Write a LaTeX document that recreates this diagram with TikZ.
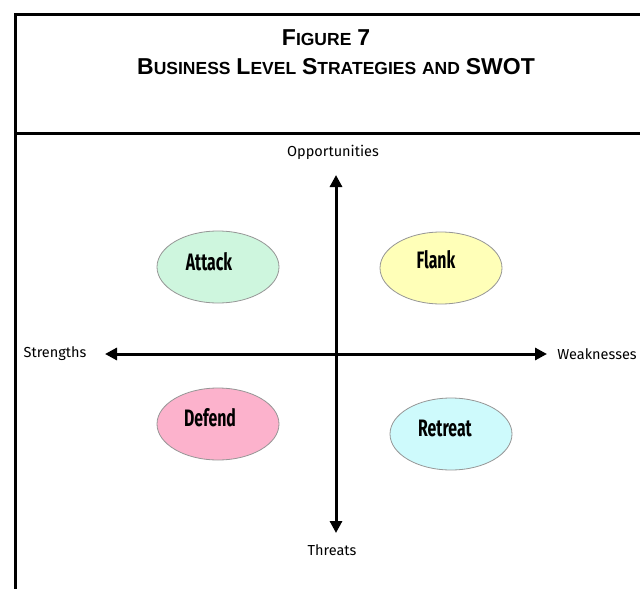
\documentclass[tikz,border=0pt]{standalone}
\usepackage{fontspec}
\setmainfont{Liberation Sans}
\newfontfamily\handfont{Fira Sans}
\usetikzlibrary{arrows.meta, shapes.geometric}

\definecolor{attackfill}{RGB}{206,246,222}
\definecolor{flankfill}{RGB}{255,255,184}
\definecolor{defendfill}{RGB}{252,178,204}
\definecolor{retreatfill}{RGB}{206,250,252}
\definecolor{rimgray}{RGB}{150,150,150}

% big first letter, rest in smaller capitals
\newcommand{\bigsc}[2]{{\fontsize{23}{24}\selectfont #1}{\fontsize{17.5}{18}\selectfont #2}}
% tall narrow lettering inside the ovals
\newcommand{\narrowtext}[1]{\scalebox{0.72}[1.08]{#1}}

\begin{document}
\begin{tikzpicture}[x=1pt, y=-1pt,
    frame/.style={line width=3pt},
    titletext/.style={font=\bfseries\fontsize{21}{24}\selectfont, inner sep=0pt},
    axis/.style={line width=3pt, {Triangle[length=12pt,width=12pt]}-{Triangle[length=12pt,width=12pt]}},
    axislabel/.style={font=\handfont\fontsize{14.5}{16}\selectfont, inner sep=0pt},
    strategy/.style={ellipse, draw=rimgray, line width=0.8pt, minimum width=122pt, minimum height=72pt},
    strategytext/.style={font=\handfont\bfseries\fontsize{22}{24}\selectfont, inner sep=0pt}]
				\useasboundingbox (0,0) rectangle (640,589);

				% Frame and title
				\draw[frame] (15.5,589) -- (15.5,14) -- (642,14);
				\draw[frame] (15.5,133) -- (642,133);
				\node[titletext] (title) at (326,38) {\bigsc{F}{IGURE} {\fontsize{23}{24}\selectfont 7}};
				\node[titletext] (subtitle) at (336,67) {\bigsc{B}{USINESS} \bigsc{L}{EVEL} \bigsc{S}{TRATEGIES} {\fontsize{17.5}{18}\selectfont AND} {\fontsize{23}{24}\selectfont SWOT}};

				% Nodes
				\node[strategy, fill=attackfill] (attack) at (218,267) {};
				\node[strategy, fill=flankfill] (flank) at (441,268) {};
				\node[strategy, fill=defendfill] (defend) at (218,424) {};
				\node[strategy, fill=retreatfill] (retreat) at (451,434) {};
				\node[strategytext] at (209,262) {\narrowtext{Attack}};
				\node[strategytext] at (436,260) {\narrowtext{Flank}};
				\node[strategytext] at (210,418) {\narrowtext{Defend}};
				\node[strategytext] at (445,428) {\narrowtext{Retreat}};

				\node[axislabel] (opp) at (333,152) {Opportunities};
				\node[axislabel] (thr) at (332,550) {Threats};
				\node[axislabel] (str) at (55,354) {Strengths};
				\node[axislabel] (weak) at (597,354) {Weaknesses};

				\coordinate (oppTip) at (336,175);
				\coordinate (thrTip) at (336,533);
				\coordinate (strTip) at (105,354);
				\coordinate (weakTip) at (547,354);

				% Edges
				\draw[axis] (thrTip) -- (oppTip);
				\draw[axis] (strTip) -- (weakTip);
			\end{tikzpicture}
\end{document}
